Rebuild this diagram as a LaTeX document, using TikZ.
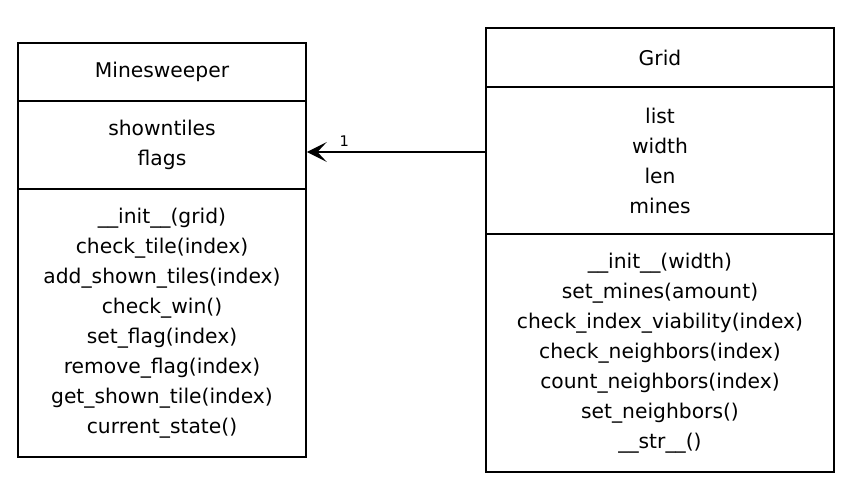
\documentclass[tikz,border=0pt]{standalone}
\usepackage{fontspec}
\setmainfont{DejaVu Sans}
\usetikzlibrary{arrows.meta}

\tikzstyle{part}=[draw,line width=1.2pt,rectangle,inner sep=0pt,align=center,font=\fontsize{15.2}{22.5}\selectfont]
\tikzstyle{assoc} = [draw,line width=1.3pt,-{Stealth[length=15pt,width=15pt,inset=7pt]}]

\begin{document}
\begin{tikzpicture}[x=0.75pt,y=-0.75pt]
     \useasboundingbox (0,0) rectangle (847,496);

     % Minesweeper class
     \node[part, minimum width=216pt, minimum height=43.5pt] (msname) at (162,72) {Minesweeper};
     \node[part, minimum width=216pt, minimum height=66pt] (msattr) at (162,145) {showntiles\\flags};
     \node[part, minimum width=216pt, minimum height=201pt] (msops) at (162,323)
       {\_\_init\_\_(grid)\\check\_tile(index)\\add\_shown\_tiles(index)\\check\_win()\\set\_flag(index)\\remove\_flag(index)\\get\_shown\_tile(index)\\current\_state()};

     % Grid class
     \node[part, minimum width=261pt, minimum height=44.25pt] (gridname) at (660,57.5) {Grid};
     \node[part, minimum width=261pt, minimum height=110.25pt] (gridattr) at (660,160.5) {list\\width\\len\\mines};
     \node[part, minimum width=261pt, minimum height=178.5pt] (gridops) at (660,353)
       {\_\_init\_\_(width)\\set\_mines(amount)\\check\_index\_viability(index)\\check\_neighbors(index)\\count\_neighbors(index)\\set\_neighbors()\\\_\_str\_\_()};

     \path[assoc] (gridattr.west |- 0,152) -- (msattr.east |- 0,152)
       node[pos=0.79, above, font=\fontsize{11}{11}\selectfont] {1};

   \end{tikzpicture}
\end{document}
